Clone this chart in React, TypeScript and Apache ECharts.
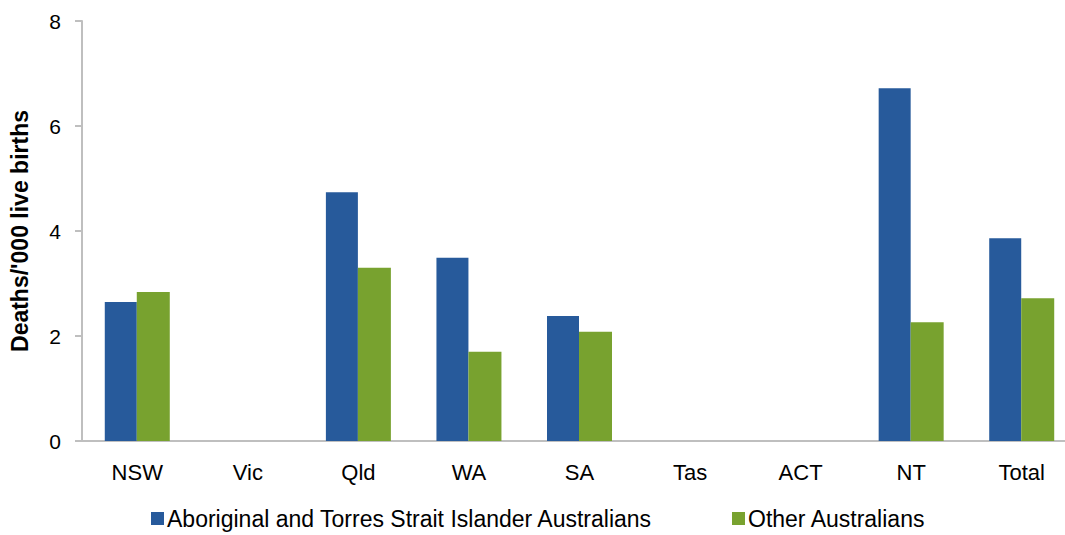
import React, { useEffect, useRef } from "react";
import * as echarts from "echarts";

const categories = ["NSW", "Vic", "Qld", "WA", "SA", "Tas", "ACT", "NT", "Total"];
const indigenous = [2.65, null, 4.74, 3.49, 2.38, null, null, 6.72, 3.86];
const other = [2.84, null, 3.3, 1.7, 2.08, null, null, 2.26, 2.72];
const yTicks = [0, 2, 4, 6, 8];
const seriesNames = ["Aboriginal and Torres Strait Islander Australians", "Other Australians"];

export default function App() {
  const ref = useRef<HTMLDivElement>(null);
  useEffect(() => {
    document.body.style.margin = "0";
    document.body.style.overflow = "hidden";
    document.documentElement.style.overflow = "hidden";
    const chart = echarts.init(ref.current!, null, { renderer: "svg" });
    const font = "Liberation Sans, Arial, sans-serif";
    const legendBase = {
      top: 507,
      padding: 0,
      itemWidth: 13,
      itemHeight: 13,
      icon: "rect",
      textStyle: { fontSize: 23, color: "#000", fontFamily: font, padding: [0, 0, 0, -2] },
    };
    chart.setOption({
      animation: false,
      textStyle: { fontFamily: font },
      grid: { left: 75, right: 0, top: 21, bottom: 94 },
      legend: [
        { ...legendBase, data: [seriesNames[0]], left: 151 },
        { ...legendBase, data: [seriesNames[1]], left: 732 },
      ],
      xAxis: {
        type: "category",
        data: categories,
        axisLine: { lineStyle: { color: "#bfbfbf", width: 2 } },
        axisTick: { show: false },
        axisLabel: { fontSize: 22, color: "#000", margin: 20, fontFamily: font },
      },
      yAxis: {
        type: "value",
        min: yTicks[0],
        max: yTicks[yTicks.length - 1],
        interval: 2,
        name: "Deaths/'000 live births",
        nameLocation: "middle",
        nameGap: 51,
        nameTextStyle: { fontSize: 23, fontWeight: "bold", color: "#000", fontFamily: font },
        axisLine: { show: true, lineStyle: { color: "#bfbfbf", width: 2 } },
        axisTick: { show: true, length: 7, lineStyle: { color: "#bfbfbf", width: 2 } },
        splitLine: { show: false },
        axisLabel: { fontSize: 21, color: "#000", margin: 21, fontFamily: font },
      },
      series: [
        {
          name: seriesNames[0],
          type: "bar",
          data: indigenous,
          barWidth: 32,
          barGap: "0%",
          itemStyle: { color: "#275a9b" },
        },
        {
          name: seriesNames[1],
          type: "bar",
          data: other,
          barWidth: 33,
          barGap: "0%",
          itemStyle: { color: "#78a22f" },
        },
      ],
    });
    return () => chart.dispose();
  }, []);
  return <div ref={ref} style={{ width: 1077, height: 535 }} />;
}
